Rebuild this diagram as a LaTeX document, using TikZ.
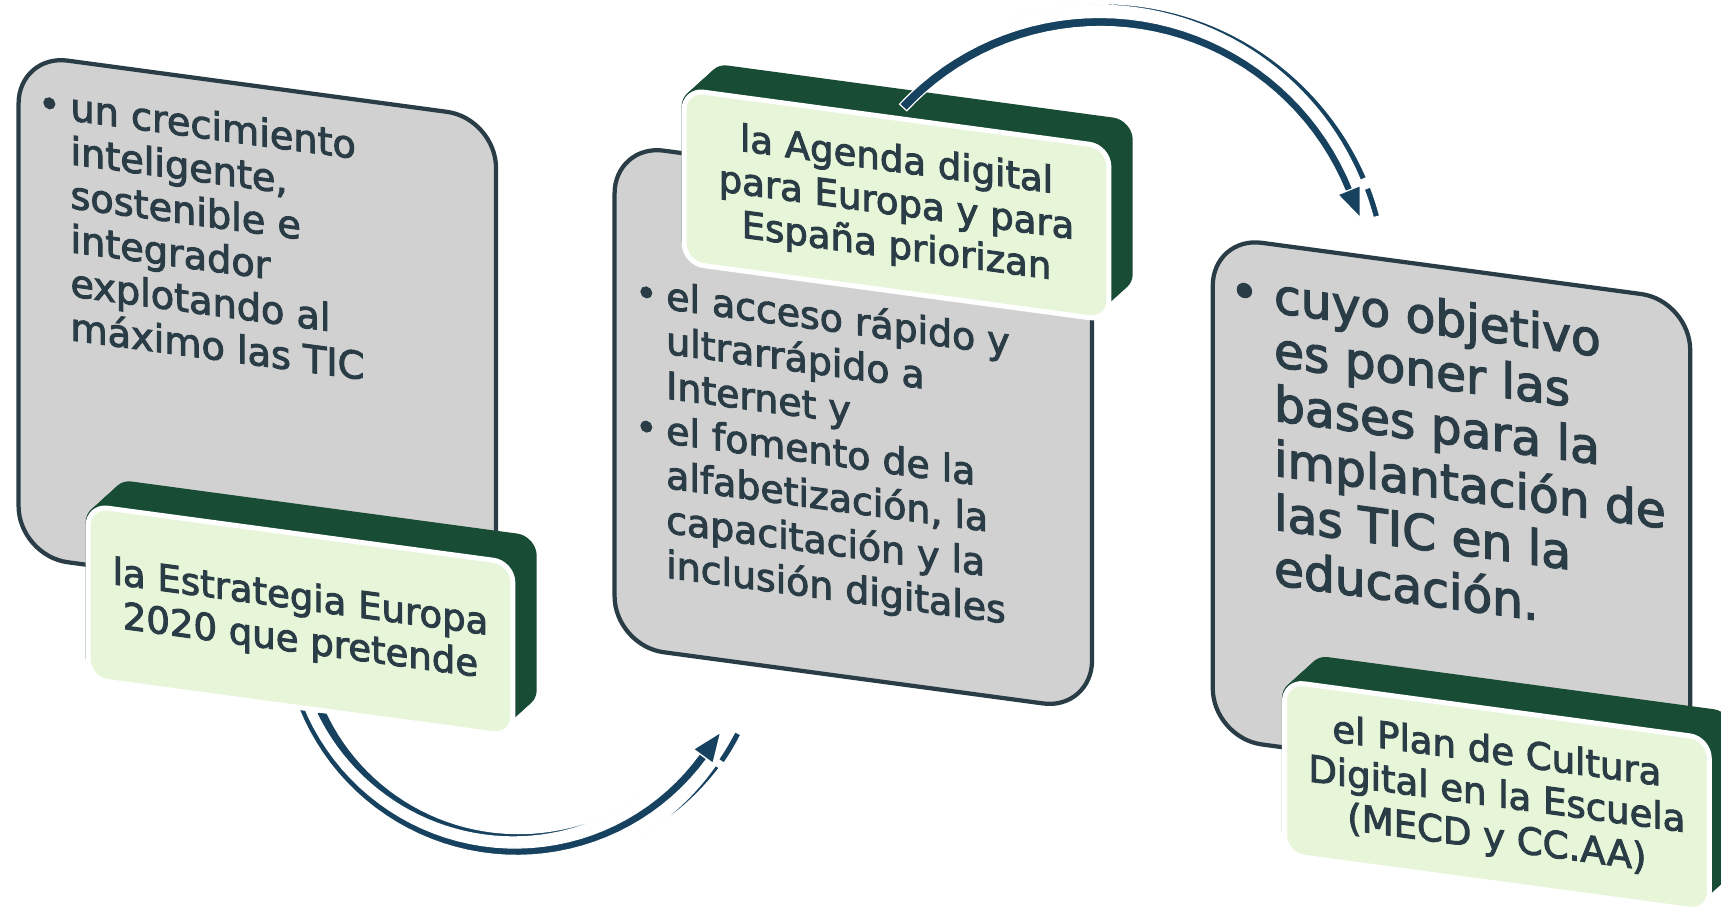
\documentclass[tikz,border=0pt]{standalone}
\usepackage{fontspec}
\setmainfont{DejaVu Sans}
\newfontfamily\diagfont{DejaVu Sans}[FakeBold=2.6]
\usetikzlibrary{calc}

\definecolor{slate}{RGB}{42,61,71}
\definecolor{boxgrey}{RGB}{209,209,209}
\definecolor{leaf}{RGB}{231,245,217}
\definecolor{pine}{RGB}{25,76,52}
\definecolor{navy}{RGB}{22,66,96}

\tikzset{
  greybox/.style={draw=slate,line width=1.1pt,fill=boxgrey,rounded corners=0.45cm,anchor=north west,minimum width=4.35cm,minimum height=4.57cm,inner sep=0pt},
  leafbox/.style={draw=white,line width=1.3pt,fill=leaf,rounded corners=0.18cm,anchor=north west,minimum width=3.87cm,minimum height=1.58cm,inner sep=0pt},
  leaftext/.style={text=slate,align=center,inner sep=0pt,font=\diagfont\fontsize{9.6}{11.2}\selectfont},
  listtext/.style={text=slate,anchor=base west,inner sep=0pt},
  arcfill/.style={fill=navy,draw=white,line width=0.3pt}
}
% band along a circle: centre, radius, start angle, end angle, start width, end width
\newcommand{\arcband}[6]{\begin{scope}[shift={(#1)}]
  \filldraw[arcfill] plot[domain=#3:#4,samples=40,variable=\t] (\t:{#2+(#5+(#6-#5)*(\t-#3)/(#4-#3))/2})
    -- plot[domain=#4:#3,samples=40,variable=\t] (\t:{#2-(#5+(#6-#5)*(\t-#3)/(#4-#3))/2}) -- cycle;
  \end{scope}}
% arrow tip: centre, radius, angle, turn (1 ccw, -1 cw), half width
\newcommand{\tiphead}[5]{\filldraw[arcfill] ($(#1)+(#3:{#2+#5})$) -- ($(#1)+(#3:{#2-#5})$) -- ($(#1)+(#3:#2)+({#3+#4*90}:0.27)$) -- cycle;}
\newcommand{\extrude}{\foreach \k in {0,...,12} \fill[pine,rounded corners=0.18cm] (\k*0.02,\k*0.0208) rectangle ++(3.87,-1.58);}

\begin{document}
\begin{tikzpicture}
        \useasboundingbox (0,0) rectangle (15.68,8.30);
        %grey boxes
        \begin{scope}[shift={(0.15,7.83)},yslant=-0.135,transform shape]
        \node[greybox] (box1) at (0,0) {};
        \node[listtext,font=\diagfont\fontsize{9.9}{11.4}\selectfont] (list1) at (0.19,-0.56) {\begin{tabular}[t]{@{}l@{\hspace{0.9mm}}l@{}}
        \textbullet & un crecimiento\\ & inteligente,\\ & sostenible e\\ & integrador\\ & explotando al\\ & máximo las TIC
        \end{tabular}};
        \end{scope}
        \begin{scope}[shift={(5.58,7.01)},yslant=-0.135,transform shape]
        \node[greybox] (box2) at (0,0) {};
        \node[listtext,font=\diagfont\fontsize{9.8}{11.6}\selectfont] (list2) at (0.20,-1.46) {\begin{tabular}[t]{@{}l@{\hspace{0.8mm}}l@{}}
        \textbullet & el acceso rápido y\\ & ultrarrápido a\\ & Internet y\\
        \textbullet & el fomento de la\\ & alfabetización, la\\ & capacitación y la\\ & inclusión digitales
        \end{tabular}};
        \end{scope}
        \begin{scope}[shift={(11.03,6.17)},yslant=-0.135,transform shape]
        \node[greybox] (box3) at (0,0) {};
        \node[listtext,font=\diagfont\fontsize{12.6}{14}\selectfont] (list3) at (0.17,-0.64) {\begin{tabular}[t]{@{}l@{\hspace{1.4mm}}l@{}}
        \textbullet & cuyo objetivo\\ & es poner las\\ & bases para la\\ & implantación de\\ & las TIC en la\\ & educación.
        \end{tabular}};
        \end{scope}

        %first arrow
        \coordinate (c1) at (4.70,2.65);
        \arcband{c1}{1.96}{205}{305}{0.085}{0}
        \arcband{c1}{2.11}{202}{324}{0.05}{0.08}
        \tiphead{c1}{2.11}{324}{1}{0.11}
        \arcband{c1}{2.27}{300}{324}{0}{0.04}
        \arcband{c1}{2.27}{325.5}{333}{0.06}{0.06}

        %green labels
        \begin{scope}[shift={(0.78,3.72)},yslant=-0.135,transform shape]
        \extrude
        \node[leafbox] (lab1) at (0,0) {};
        \node[leaftext] (lab1txt) at (lab1.center) {la Estrategia Europa\\2020 que pretende};
        \end{scope}
        \begin{scope}[shift={(6.21,7.51)},yslant=-0.135,transform shape]
        \extrude
        \end{scope}

        %second arrow
        \coordinate (c2) at (10.02,5.65);
        \arcband{c2}{2.45}{137}{22}{0.09}{0.07}
        \tiphead{c2}{2.45}{22}{-1}{0.11}
        \arcband{c2}{2.61}{108}{23}{0}{0.06}
        \arcband{c2}{2.61}{21}{15}{0.06}{0.06}

        \begin{scope}[shift={(6.21,7.51)},yslant=-0.135,transform shape]
        \node[leafbox] (lab2) at (0,0) {};
        \node[leaftext] (lab2txt) at (lab2.center) {la Agenda digital\\para Europa y para\\España priorizan};
        \end{scope}
        \begin{scope}[shift={(11.68,2.12)},yslant=-0.135,transform shape]
        \extrude
        \node[leafbox] (lab3) at (0,0) {};
        \node[leaftext] (lab3txt) at (lab3.center) {el Plan de Cultura\\Digital en la Escuela\\(MECD y CC.AA)};
        \end{scope}
\end{tikzpicture}
\end{document}
